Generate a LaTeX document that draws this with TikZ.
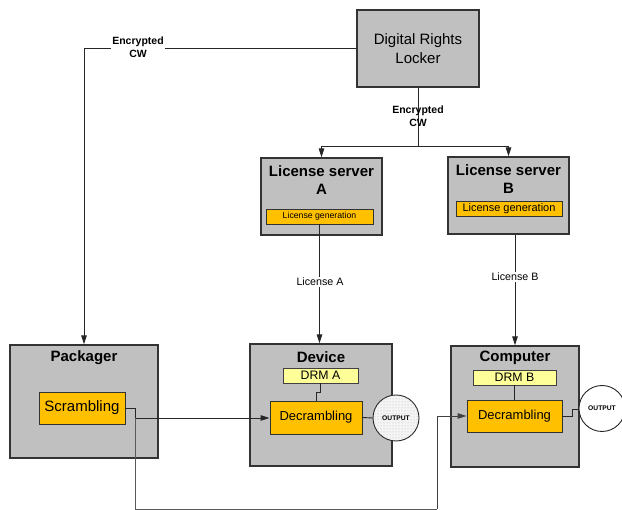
\documentclass[tikz,border=0pt]{standalone}
\usepackage{fontspec}
\setmainfont{Liberation Sans}
\usetikzlibrary{arrows.meta,patterns}
\definecolor{boxgray}{HTML}{C0C0C0}
\definecolor{myorange}{HTML}{FFC000}
\definecolor{paleyellow}{HTML}{FFFF99}
\begin{document}
\begin{tikzpicture}[x=1pt,y=-1pt,
  outer/.style={draw=black!80, line width=1.3pt, fill=boxgray, rectangle, inner sep=0pt},
  inner/.style={draw=black!80, line width=0.9pt, fill=myorange, rectangle, inner sep=0pt},
  drm/.style={draw=black!75, line width=0.8pt, fill=paleyellow, rectangle, inner sep=0pt},
  title/.style={font=\fontsize{15}{18}\selectfont\bfseries, align=center, inner sep=0pt},
  conn/.style={line width=0.9pt, draw=black!85},
  arr/.style={conn, -{Triangle[length=9pt,width=5.5pt]}},
  lbl/.style={font=\fontsize{10.7}{12}\selectfont, align=center, inner sep=1pt},
  blbl/.style={font=\fontsize{10.5}{13}\selectfont\bfseries, align=center, inner sep=1pt},
  outc/.style={circle, draw=black!85, line width=0.9pt, minimum size=46pt, inner sep=0pt, font=\fontsize{6.7}{8}\selectfont\bfseries}
]
\useasboundingbox (0,0) rectangle (622,510);

% boxes
\node[outer, minimum width=122pt, minimum height=77pt, align=center, font=\fontsize{15}{19}\selectfont] (drl) at (418,48.5) {Digital Rights\\Locker};

\node[outer, minimum width=121pt, minimum height=77pt] (lsa) at (321.5,196.5) {};
\node[title] (lsat) at (321.5,180) {License server\\A};
\node[inner, minimum width=107pt, minimum height=15pt, font=\fontsize{8.7}{10}\selectfont] (lga) at (319.5,216.5) {License generation};

\node[outer, minimum width=121pt, minimum height=77pt] (lsb) at (508.5,195.5) {};
\node[title] (lsbt) at (508.5,179) {License server\\B};
\node[inner, minimum width=106pt, minimum height=15pt, font=\fontsize{11}{12}\selectfont] (lgb) at (509,208.5) {License generation};

\node[outer, minimum width=148pt, minimum height=113pt] (pack) at (84,401.5) {};
\node[title] (packt) at (84,358) {Packager};
\node[inner, minimum width=86pt, minimum height=32pt, font=\fontsize{15}{16}\selectfont] (scr) at (82,408) {Scrambling};

\node[outer, minimum width=142pt, minimum height=122pt] (dev) at (321,405) {};
\node[title] (devt) at (321,357) {Device};
\node[drm, minimum width=75pt, minimum height=15pt, font=\fontsize{12.3}{14}\selectfont] (drma) at (320.5,375.5) {DRM A};
\node[inner, minimum width=92pt, minimum height=33pt, font=\fontsize{13}{14}\selectfont] (decra) at (316,417.5) {Decrambling};

\node[outer, minimum width=128pt, minimum height=121pt] (comp) at (515,406.5) {};
\node[title] (compt) at (515,358) {Computer};
\node[drm, minimum width=83pt, minimum height=15pt, font=\fontsize{12.3}{14}\selectfont] (drmb) at (514.5,377.5) {DRM B};
\node[inner, minimum width=95pt, minimum height=32pt, font=\fontsize{13}{14}\selectfont] (decrb) at (514.5,416) {Decrambling};

\node[outc, fill=gray!8, postaction={pattern=dots, pattern color=gray!60}] (outa) at (396,418) {OUTPUT};
\node[outc, fill=white] (outb) at (602,408.5) {OUTPUT};

% connectors
\draw[arr] (drl.west) -- (drl.west -| pack.north) -- (pack.north);
\node[blbl, fill=white] (ecw1) at (138,47.5) {Encrypted\\CW};

\coordinate (split) at (418,146);
\draw[conn] (drl.south) -- (split);
\draw[arr] (split) -| (lsa.north);
\draw[arr] (split) -| (lsb.north);
\node[blbl] (ecw2) at (418,116) {Encrypted\\CW};

\draw[arr] (lga.south) -- (lga.south |- dev.north);
\node[lbl, fill=white] (lica) at (320,282) {License A};
\draw[arr] (lsb.south -| comp.north) -- (comp.north);
\node[lbl, fill=white] (licb) at (515,277) {License B};

\coordinate (ja) at (316,392);
\draw[conn] (drma.south) |- (ja) -- (decra.north);
\draw[conn] (decra.east) -- (outa.west);
\draw[conn] (drmb.south) -- (drmb.south |- decrb.north);

\coordinate (ob1) at (572,416);
\coordinate (ob2) at (572,409);
\draw[conn] (decrb.east |- ob1) -- (ob1) -- (ob2) -- (outb.west |- ob2);

\coordinate (sj) at (135,418);
\draw[arr] (scr.east) -| (sj) -- (decra.west |- sj);
\coordinate (b1) at (135,509);
\coordinate (b2) at (437,509);
\draw[conn, draw=black!65] (sj) -- (b1) -- (b2);
\draw[arr, draw=black!75] (b2) |- (decrb.west);
\end{tikzpicture}
\end{document}
